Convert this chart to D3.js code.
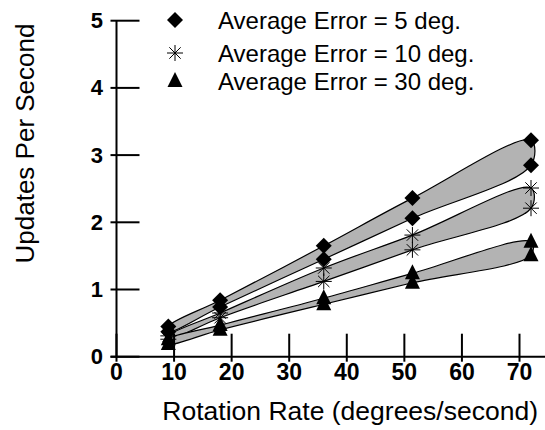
<!DOCTYPE html>
<html>
<head>
<meta charset="utf-8">
<script src="https://cdn.jsdelivr.net/npm/d3@7"></script>
<style>
  body { margin: 0; background: #fff; }
  text { font-family: "Liberation Sans", Arial, Helvetica, sans-serif; fill: #000; }
</style>
</head>
<body>
<svg id="chart" width="545" height="430"></svg>
<script>
// rotation rates (deg/s)
var rates = [9, 18, 36, 51.4, 72];

// each series has an upper and lower value at every rate
var err5_hi  = [0.45, 0.84, 1.65, 2.36, 3.22];
var err5_lo  = [0.37, 0.74, 1.45, 2.06, 2.85];
var err10_hi = [0.31, 0.65, 1.32, 1.81, 2.51];
var err10_lo = [0.26, 0.58, 1.12, 1.59, 2.21];
var err30_hi = [0.26, 0.47, 0.87, 1.24, 1.71];
var err30_lo = [0.19, 0.40, 0.78, 1.10, 1.51];

var legendLabels = ['Average Error = 5 deg.', 'Average Error = 10 deg.', 'Average Error = 30 deg.'];
var symbols = ['diamond', 'asterisk', 'triangle'];
var xTicks = [0, 10, 20, 30, 40, 50, 60, 70];
var yTicks = [0, 1, 2, 3, 4, 5];

var svg = d3.select('#chart');

var x = d3.scaleLinear().domain([0, 70]).range([116.5, 519.5]);
var y = d3.scaleLinear().domain([0, 5]).range([356.7, 20.7]);

// outline of a band: upper values left to right, then lower values back
function bandPoints(hi, lo){
    var pts = [];
    for (var i = 0; i < rates.length; i++) pts.push([rates[i], hi[i]]);
    for (var j = rates.length - 1; j >= 0; j--) pts.push([rates[j], lo[j]]);
    return pts;
}

var series = [
    {hi: err5_hi, lo: err5_lo, sym: 'diamond'},
    {hi: err10_hi, lo: err10_lo, sym: 'asterisk'},
    {hi: err30_hi, lo: err30_lo, sym: 'triangle'}
];

var outline = d3.line()
    .x(function(d){ return x(d[0]); })
    .y(function(d){ return y(d[1]); })
    .curve(d3.curveCatmullRomClosed.alpha(0.5));

series.forEach(function(s){
    svg.append('path')
        .attr('d', outline(bandPoints(s.hi, s.lo)))
        .attr('fill', '#b3b3b3')
        .attr('stroke', '#000')
        .attr('stroke-width', 1.2);
});

// axes
var axisColor = '#000';
svg.append('line')
    .attr('x1', x(0)).attr('x2', x(0))
    .attr('y1', y(5)).attr('y2', y(0))
    .attr('stroke', axisColor).attr('stroke-width', 2);
svg.append('line')
    .attr('x1', x(0) - 6).attr('x2', 545)
    .attr('y1', y(0)).attr('y2', y(0))
    .attr('stroke', axisColor).attr('stroke-width', 2);

svg.selectAll('.ytick').data(yTicks).enter()
    .append('line')
        .attr('x1', x(0) - 6).attr('x2', x(0) + 23)
        .attr('y1', function(d){ return y(d); })
        .attr('y2', function(d){ return y(d); })
        .attr('stroke', axisColor).attr('stroke-width', 2);

svg.selectAll('.xtick').data(xTicks).enter()
    .append('line')
        .attr('x1', function(d){ return x(d); })
        .attr('x2', function(d){ return x(d); })
        .attr('y1', y(0) - 23).attr('y2', y(0) + 5)
        .attr('stroke', axisColor).attr('stroke-width', 2);

svg.selectAll('.ylab').data(yTicks).enter()
    .append('text')
        .attr('x', 103)
        .attr('y', function(d){ return y(d) + 7.5; })
        .attr('text-anchor', 'end')
        .style('font-size', '22px')
        .style('font-weight', 'bold')
        .text(function(d){ return d; });

svg.selectAll('.xlab').data(xTicks).enter()
    .append('text')
        .attr('x', function(d){ return x(d); })
        .attr('y', 380)
        .attr('text-anchor', 'middle')
        .style('font-size', '23px')
        .style('font-weight', 'bold')
        .text(function(d){ return d; });

svg.append('text')
    .attr('x', 538).attr('y', 420)
    .attr('text-anchor', 'end')
    .style('font-size', '26.5px')
    .text('Rotation Rate (degrees/second)');

svg.append('text')
    .attr('transform', 'translate(33.5,143.5) rotate(-90)')
    .attr('text-anchor', 'middle')
    .style('font-size', '26px')
    .text('Updates Per Second');

// markers
function drawSymbol(g, type, cx, cy){
    if (type == 'diamond'){
        g.append('path')
            .attr('d', 'M' + cx + ',' + (cy - 8) + 'L' + (cx + 8) + ',' + cy + 'L' + cx + ',' + (cy + 8) + 'L' + (cx - 8) + ',' + cy + 'Z')
            .attr('fill', '#000');
    } else if (type == 'triangle'){
        g.append('path')
            .attr('d', 'M' + cx + ',' + (cy - 9) + 'L' + (cx + 7.5) + ',' + (cy + 6) + 'L' + (cx - 7.5) + ',' + (cy + 6) + 'Z')
            .attr('fill', '#000');
    } else {
        var r = 8, d = 5.7;
        var p = 'M' + (cx - r) + ',' + cy + 'L' + (cx + r) + ',' + cy +
                'M' + cx + ',' + (cy - r) + 'L' + cx + ',' + (cy + r) +
                'M' + (cx - d) + ',' + (cy - d) + 'L' + (cx + d) + ',' + (cy + d) +
                'M' + (cx - d) + ',' + (cy + d) + 'L' + (cx + d) + ',' + (cy - d);
        g.append('path').attr('d', p)
            .attr('fill', 'none').attr('stroke', '#000').attr('stroke-width', 1);
    }
}

var marks = svg.append('g');
series.forEach(function(s){
    rates.forEach(function(r, i){
        drawSymbol(marks, s.sym, x(r), y(s.hi[i]));
        drawSymbol(marks, s.sym, x(r), y(s.lo[i]));
    });
});

// legend
var legendY = [20, 53, 81];
legendLabels.forEach(function(l, i){
    drawSymbol(svg, symbols[i], 175, legendY[i]);
    svg.append('text')
        .attr('x', 218)
        .attr('y', legendY[i] + 9)
        .style('font-size', '24px')
        .text(l);
});
</script>
</body>
</html>
